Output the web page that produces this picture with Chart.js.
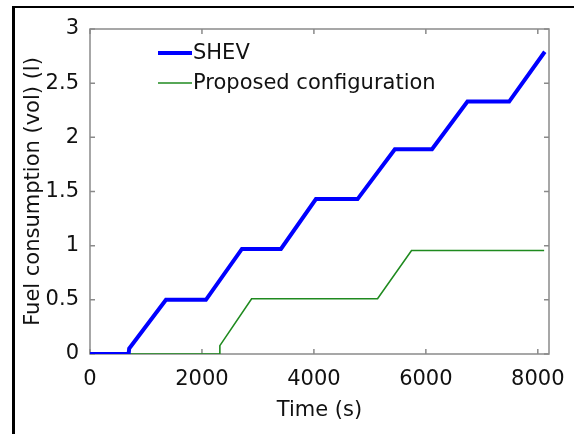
<!DOCTYPE html>
<html>
<head>
<meta charset="utf-8">
<script src="https://cdn.jsdelivr.net/npm/chart.js@4.4.1/dist/chart.umd.min.js"></script>
<style>
    html, body { margin: 0; padding: 0; background: #fff; }
    #wrap { position: relative; width: 574px; height: 434px; overflow: hidden; }
    #frame {
        position: absolute; left: 12px; top: 6px; width: 700px; height: 600px;
        border-left: 3px solid #000; border-top: 2px solid #000; pointer-events: none;
    }
    canvas { position: absolute; left: 0; top: 0; }
</style>
</head>
<body>
<div id="wrap">
    <canvas id="chart-fuel" width="574" height="434"></canvas>
    <div id="frame"></div>
</div>
<script>
// Data (time in s, fuel in litres)
const timeShev = [0, 690, 700, 1357, 2071, 2714, 3411, 4036, 4780, 5446, 6110, 6743, 7488, 8125];
const fuelShev = [0, 0, 0.05, 0.50, 0.50, 0.97, 0.97, 1.43, 1.43, 1.89, 1.89, 2.33, 2.33, 2.79];

const timeProposed = [0, 2310, 2320, 2887, 5137, 5744, 8113];
const fuelProposed = [0, 0, 0.077, 0.51, 0.51, 0.955, 0.955];

const seriesLabels = ['SHEV', 'Proposed configuration'];
const xTicks = [0, 2000, 4000, 6000, 8000];
const yTicks = [0, 0.5, 1, 1.5, 2, 2.5, 3];

const FONT = 'DejaVu Sans';
const TEXT = '#111';

/**
 * Khung kiểu MATLAB: viền xám 4 phía + vạch chia hướng vào trong
 */
const matlabBox = {
    id: 'matlabBox',
    beforeDatasetsDraw(chart) {
        const { ctx, chartArea: a, scales: { x, y } } = chart;
        const len = 5;
        ctx.save();
        ctx.strokeStyle = '#8a8a8a';
        ctx.lineWidth = 1.5;
        ctx.strokeRect(a.left, a.top, a.right - a.left, a.bottom - a.top);
        ctx.beginPath();
        x.ticks.forEach(t => {
            const px = x.getPixelForValue(t.value);
            ctx.moveTo(px, a.bottom); ctx.lineTo(px, a.bottom - len);
            ctx.moveTo(px, a.top); ctx.lineTo(px, a.top + len);
        });
        y.ticks.forEach(t => {
            const py = y.getPixelForValue(t.value);
            ctx.moveTo(a.left, py); ctx.lineTo(a.left + len, py);
            ctx.moveTo(a.right, py); ctx.lineTo(a.right - len, py);
        });
        ctx.stroke();
        ctx.restore();
    }
};

/**
 * Chú thích nằm trong vùng vẽ (góc trên bên trái)
 */
const insideLegend = {
    id: 'insideLegend',
    afterDraw(chart) {
        const { ctx, chartArea: a } = chart;
        ctx.save();
        ctx.font = `21px "${FONT}"`;
        ctx.textBaseline = 'middle';
        ctx.textAlign = 'left';
        chart.data.datasets.forEach((ds, i) => {
            const yy = a.top + 24 + i * 30;
            const x0 = a.left + 68;
            ctx.strokeStyle = ds.borderColor;
            ctx.lineWidth = ds.borderWidth;
            ctx.beginPath();
            ctx.moveTo(x0, yy);
            ctx.lineTo(x0 + 34, yy);
            ctx.stroke();
            ctx.fillStyle = TEXT;
            ctx.fillText(ds.label, x0 + 35, yy + 1);
        });
        ctx.restore();
    }
};

const canvas = document.getElementById('chart-fuel');
new Chart(canvas.getContext('2d'), {
    type: 'line',
    data: {
        datasets: [{
            label: seriesLabels[0],
            data: timeShev.map((t, i) => ({ x: t, y: fuelShev[i] })),
            borderColor: '#0000ff',
            borderWidth: 4,
            pointRadius: 0,
            tension: 0,
            clip: 0
        }, {
            label: seriesLabels[1],
            data: timeProposed.map((t, i) => ({ x: t, y: fuelProposed[i] })),
            borderColor: '#1f8a1f',
            borderWidth: 1.6,
            pointRadius: 0,
            tension: 0
        }]
    },
    options: {
        responsive: false,
        devicePixelRatio: 1,
        animation: false,
        layout: { padding: { left: 0, top: 29, right: 25, bottom: 0 } },
        plugins: {
            legend: { display: false },
            tooltip: { enabled: false }
        },
        scales: {
            x: {
                type: 'linear',
                min: 0,
                max: 8200,
                afterFit: s => { s.height = 80; },
                afterBuildTicks: s => { s.ticks = xTicks.map(v => ({ value: v })); },
                ticks: {
                    font: { family: FONT, size: 21 }, color: TEXT, padding: 5, maxRotation: 0,
                    callback: v => String(v)
                },
                grid: { display: false },
                border: { display: false },
                title: {
                    display: true,
                    text: 'Time (s)',
                    font: { family: FONT, size: 21 },
                    color: TEXT,
                    padding: { top: 0, bottom: 11 }
                }
            },
            y: {
                type: 'linear',
                min: 0,
                max: 3,
                afterFit: s => { s.width = 90; },
                afterBuildTicks: s => { s.ticks = yTicks.map(v => ({ value: v })); },
                ticks: {
                    font: { family: FONT, size: 21 }, color: TEXT, padding: 3,
                    callback: v => String(v)
                },
                grid: { display: false },
                border: { display: false },
                title: {
                    display: true,
                    text: 'Fuel consumption (vol) (l)',
                    font: { family: FONT, size: 21 },
                    color: TEXT,
                    padding: { top: 21, bottom: 0 }
                }
            }
        }
    },
    plugins: [matlabBox, insideLegend]
});
</script>
</body>
</html>
